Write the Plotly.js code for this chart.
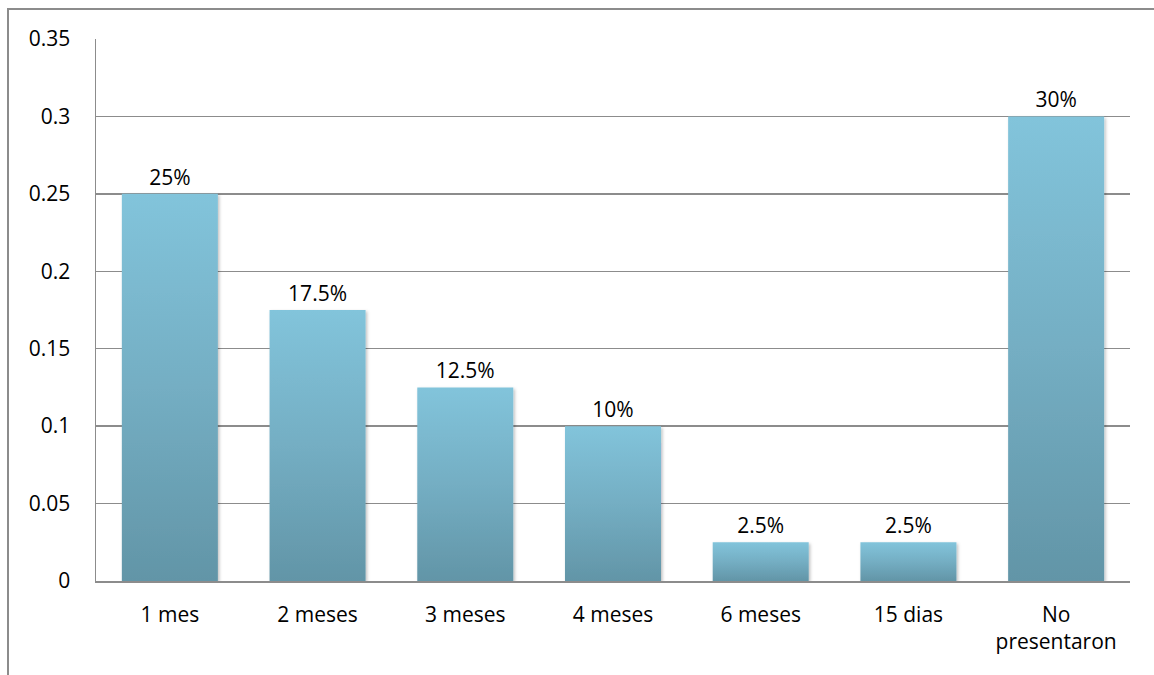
<!DOCTYPE html>
<html>
<head>
<meta charset="utf-8">
<script src="https://cdn.plot.ly/plotly-3.0.1.min.js"></script>
<style>
  html, body { margin: 0; padding: 0; background: #fff; }
  #wrap { position: relative; width: 1154px; height: 675px; overflow: hidden; }
  #frame { position: absolute; left: 7px; top: 8px; right: -4px; bottom: -4px;
           border-left: 2px solid #8c8c8c; border-top: 2px solid #8c8c8c; pointer-events: none; }
  #chart { position: absolute; left: 0; top: 0; width: 1154px; height: 675px; }
</style>
</head>
<body>
<div id="wrap">
  <div id="chart"></div>
  <div id="frame"></div>
</div>
<script>
// Share of cases by duration
const categories = ['1 mes', '2 meses', '3 meses', '4 meses', '6 meses', '15 dias', 'No<br>presentaron'];
const shares = [0.25, 0.175, 0.125, 0.10, 0.025, 0.025, 0.30];
const yTicks = [0, 0.05, 0.1, 0.15, 0.2, 0.25, 0.3, 0.35];

const pctLabels = shares.map(v => (Math.round(v * 1000) / 10) + '%');

const FONT = '"Open Sans", Lato, "Liberation Sans", sans-serif';
const FSIZE = 21;

const trace = {
  type: 'bar',
  x: categories,
  y: shares,
  text: pctLabels,
  texttemplate: '%{text}',
  textposition: 'outside',
  cliponaxis: false,
  textfont: { family: FONT, size: FSIZE, color: '#000' },
  marker: { color: '#74adc2', line: { width: 0 } },
  hoverinfo: 'none'
};

const layout = {
  width: 1154,
  height: 675,
  margin: { l: 96, r: 24, t: 39, b: 94 },
  paper_bgcolor: '#fff',
  plot_bgcolor: '#fff',
  bargap: 0.35,
  showlegend: false,
  font: { family: FONT, size: FSIZE, color: '#000' },
  xaxis: {
    type: 'category',
    showline: true,
    linecolor: '#8c8c8c',
    linewidth: 1.5,
    ticks: '',
    showgrid: false,
    ticklabelstandoff: 14,
    tickfont: { family: FONT, size: FSIZE, color: '#000' }
  },
  yaxis: {
    range: [0, 0.35],
    tickmode: 'array',
    tickvals: yTicks,
    ticktext: yTicks.map(String),
    showline: true,
    linecolor: '#8c8c8c',
    linewidth: 1.5,
    showgrid: true,
    gridcolor: '#8c8c8c',
    gridwidth: 1.5,
    zeroline: false,
    ticks: '',
    ticklabelstandoff: 20,
    tickfont: { family: FONT, size: FSIZE, color: '#000' }
  }
};

Plotly.newPlot('chart', [trace], layout, { staticPlot: true, displayModeBar: false }).then(gd => {
  // vertical gradient fill for the bars
  const svg = gd.querySelector('svg.main-svg');
  const ns = 'http://www.w3.org/2000/svg';
  let defs = svg.querySelector('defs');
  if (!defs) { defs = document.createElementNS(ns, 'defs'); svg.insertBefore(defs, svg.firstChild); }
  const grad = document.createElementNS(ns, 'linearGradient');
  grad.setAttribute('id', 'barFill');
  grad.setAttribute('x1', '0'); grad.setAttribute('y1', '0');
  grad.setAttribute('x2', '0'); grad.setAttribute('y2', '1');
  [['0', '#82c4db'], ['0.5', '#74aec3'], ['1', '#6295a7']].forEach(([o, c]) => {
    const s = document.createElementNS(ns, 'stop');
    s.setAttribute('offset', o);
    s.setAttribute('stop-color', c);
    grad.appendChild(s);
  });
  defs.appendChild(grad);
  const filt = document.createElementNS(ns, 'filter');
  filt.setAttribute('id', 'barShadow');
  filt.setAttribute('x', '-10%'); filt.setAttribute('y', '-10%');
  filt.setAttribute('width', '130%'); filt.setAttribute('height', '130%');
  filt.innerHTML = '<feDropShadow dx="1.5" dy="1.5" stdDeviation="1.5" flood-color="#000" flood-opacity="0.25"/>';
  defs.appendChild(filt);
  gd.querySelectorAll('.bars .point path').forEach(p => {
    p.style.fill = 'url(#barFill)';
    p.setAttribute('filter', 'url(#barShadow)');
  });
});
</script>
</body>
</html>
